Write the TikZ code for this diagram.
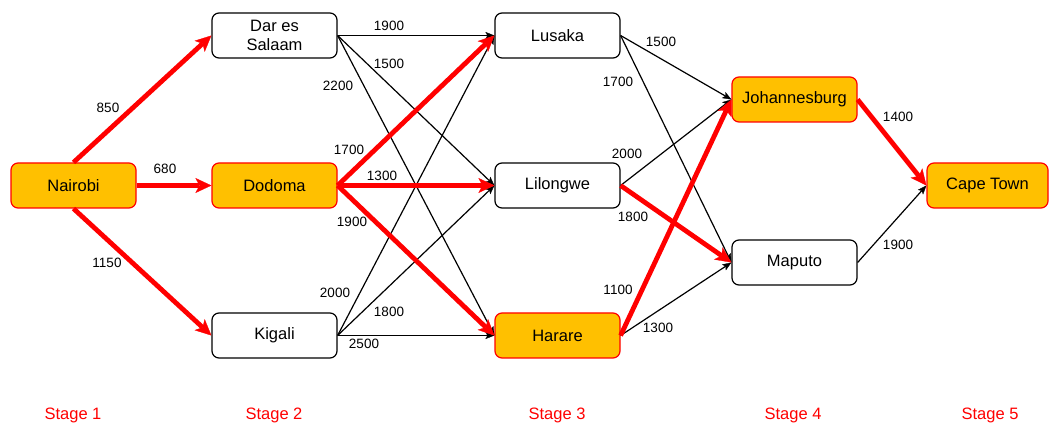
\documentclass[tikz,border=0pt]{standalone}
\usepackage{fontspec}
\setmainfont{Liberation Sans}
\usetikzlibrary{arrows.meta}
\definecolor{gold}{HTML}{FFC000}
\definecolor{redx}{HTML}{FF0000}
\begin{document}
\begin{tikzpicture}[x=1pt,y=-1pt,
  city/.style={draw=black, line width=1.2pt, rounded corners=7pt, fill=white,
    minimum width=125pt, minimum height=45pt, inner sep=0pt,
    font=\fontsize{16.5}{18.5}\selectfont, align=center},
  hot/.style={city, draw=redx, fill=gold},
  plain/.style={draw=black, line width=1.2pt, -{Stealth[length=9pt,width=7pt,inset=2pt,line width=0.3pt]}},
  best/.style={draw=redx, line width=4.8pt, -{Stealth[length=16pt,width=15pt,inset=4pt,line width=0.3pt]}},
  lbl/.style={font=\fontsize{13.5}{15}\selectfont, inner sep=0pt},
  stage/.style={text=redx, font=\fontsize{16.5}{18}\selectfont, inner sep=0pt}]
\useasboundingbox (0,0) rectangle (1049,427);

% nodes
\node[hot]  (nai) at (73.5,185.5) {Nairobi};
\node[city] (dar) at (274.5,35.5) {Dar es\\Salaam};
\node[hot]  (dod) at (274.5,185.5) {Dodoma};
\node[city] (kig) at (274.5,335.5) {Kigali};
\node[city] (lus) at (557.5,35.5) {Lusaka};
\node[city] (lil) at (557.5,185.5) {Lilongwe};
\node[hot]  (har) at (557.5,335.5) {Harare};
\node[hot]  (joh) at (794.5,99.5) {Johannesburg};
\node[city] (map) at (794.5,262.5) {Maputo};
\node[hot, minimum width=121pt] (cap) at (987.5,185.5) {Cape Town};

% black edges
\draw[plain] (dar.east) -- (lus.west);
\draw[plain] (dar.east) -- (lil.west);
\draw[plain] (dar.east) -- (har.west);
\draw[plain] (kig.east) -- (lus.west);
\draw[plain] (kig.east) -- (lil.west);
\draw[plain] (kig.east) -- (har.west);
\draw[plain] (lus.east) -- (joh.west);
\draw[plain] (lus.east) -- (map.west);
\draw[plain] (lil.east) -- (joh.west);
\draw[plain] (har.east) -- (map.west);
\draw[plain] (map.east) -- (cap.west);

% red edges
\draw[best] (nai.north) -- (dar.west);
\draw[best] (nai.east) -- (dod.west);
\draw[best] (nai.south) -- (kig.west);
\draw[best] (dod.east) -- (lus.west);
\draw[best] (dod.east) -- (lil.west);
\draw[best] (dod.east) -- (har.west);
\draw[best] (lil.east) -- (map.west);
\draw[best] (har.east) -- (joh.west);
\draw[best] (joh.east) -- (cap.west);

% labels
\node[lbl] (l1) at (108,108) {850};
\node[lbl] (l2) at (165,169) {680};
\node[lbl] (l3) at (107,263) {1150};
\node[lbl] (l4) at (389,26) {1900};
\node[lbl] (l5) at (389,64) {1500};
\node[lbl] (l6) at (338,86) {2200};
\node[lbl] (l7) at (349,150) {1700};
\node[lbl] (l8) at (382,176) {1300};
\node[lbl] (l9) at (352,222) {1900};
\node[lbl] (l10) at (335,293) {2000};
\node[lbl] (l11) at (389,312) {1800};
\node[lbl] (l12) at (364,344) {2500};
\node[lbl] (l13) at (661,42) {1500};
\node[lbl] (l14) at (618,82) {1700};
\node[lbl] (l15) at (627,154) {2000};
\node[lbl] (l16) at (633,217) {1800};
\node[lbl] (l17) at (618,290) {1100};
\node[lbl] (l18) at (658,328) {1300};
\node[lbl] (l19) at (898,117) {1400};
\node[lbl] (l20) at (898,245) {1900};

% stages
\node[stage] (s1) at (73,415) {Stage 1};
\node[stage] (s2) at (274,415) {Stage 2};
\node[stage] (s3) at (557,415) {Stage 3};
\node[stage] (s4) at (793,415) {Stage 4};
\node[stage] (s5) at (990,415) {Stage 5};
\end{tikzpicture}
\end{document}
